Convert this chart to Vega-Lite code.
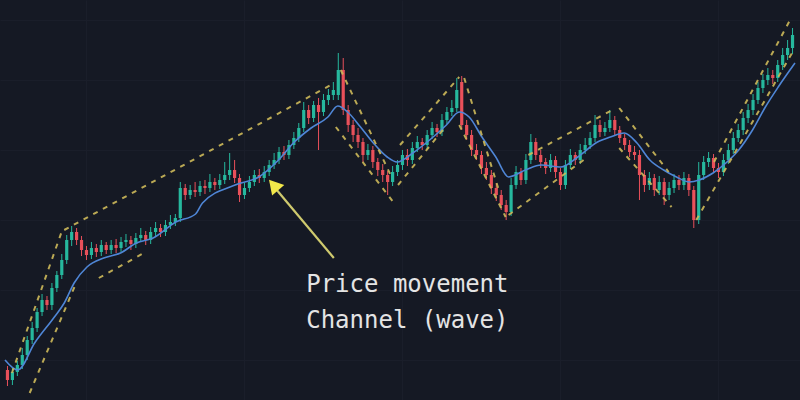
{
  "$schema": "https://vega.github.io/schema/vega-lite/v6.json",
  "width": 800,
  "height": 400,
  "autosize": {"type": "fit", "contains": "padding"},
  "padding": 0,
  "background": "#151924",
  "config": {"view": {"stroke": null}},
  "datasets": {
    "candles": [
      {"t":0,"o":30,"h":34,"l":14,"c":20},{"t":1,"o":20,"h":33,"l":15,"c":28},{"t":2,"o":28,"h":39,"l":24,"c":35},{"t":3,"o":35,"h":52,"l":31,"c":45},{"t":4,"o":45,"h":64,"l":40,"c":60},
      {"t":5,"o":60,"h":78,"l":56,"c":72},{"t":6,"o":72,"h":92,"l":68,"c":88},{"t":7,"o":88,"h":106,"l":84,"c":100},{"t":8,"o":100,"h":104,"l":90,"c":95},{"t":9,"o":95,"h":117,"l":90,"c":112},
      {"t":10,"o":112,"h":129,"l":108,"c":125},{"t":11,"o":125,"h":146,"l":121,"c":140},{"t":12,"o":140,"h":165,"l":136,"c":160},{"t":13,"o":160,"h":174,"l":154,"c":168},{"t":14,"o":168,"h":172,"l":155,"c":160},
      {"t":15,"o":160,"h":164,"l":144,"c":150},{"t":16,"o":150,"h":154,"l":140,"c":145},{"t":17,"o":145,"h":158,"l":141,"c":152},{"t":18,"o":152,"h":156,"l":143,"c":148},{"t":19,"o":148,"h":160,"l":144,"c":155},
      {"t":20,"o":155,"h":158,"l":146,"c":150},{"t":21,"o":150,"h":160,"l":146,"c":155},{"t":22,"o":155,"h":161,"l":147,"c":152},{"t":23,"o":152,"h":163,"l":148,"c":158},{"t":24,"o":158,"h":166,"l":153,"c":160},
      {"t":25,"o":160,"h":164,"l":150,"c":156},{"t":26,"o":156,"h":167,"l":152,"c":162},{"t":27,"o":162,"h":172,"l":158,"c":165},{"t":28,"o":165,"h":169,"l":155,"c":160},{"t":29,"o":160,"h":173,"l":156,"c":168},
      {"t":30,"o":168,"h":178,"l":164,"c":172},{"t":31,"o":172,"h":176,"l":163,"c":168},{"t":32,"o":168,"h":180,"l":164,"c":175},{"t":33,"o":175,"h":185,"l":171,"c":178},{"t":34,"o":178,"h":186,"l":174,"c":182},
      {"t":35,"o":182,"h":218,"l":178,"c":212},{"t":36,"o":212,"h":216,"l":200,"c":205},{"t":37,"o":205,"h":215,"l":201,"c":210},{"t":38,"o":210,"h":218,"l":203,"c":208},{"t":39,"o":208,"h":219,"l":204,"c":214},
      {"t":40,"o":214,"h":220,"l":206,"c":212},{"t":41,"o":212,"h":226,"l":208,"c":218},{"t":42,"o":218,"h":222,"l":210,"c":215},{"t":43,"o":215,"h":226,"l":211,"c":220},{"t":44,"o":220,"h":238,"l":216,"c":225},
      {"t":45,"o":225,"h":247,"l":220,"c":230},{"t":46,"o":230,"h":240,"l":217,"c":222},{"t":47,"o":222,"h":226,"l":198,"c":205},{"t":48,"o":205,"h":217,"l":201,"c":212},{"t":49,"o":212,"h":224,"l":208,"c":218},
      {"t":50,"o":218,"h":230,"l":214,"c":225},{"t":51,"o":225,"h":231,"l":217,"c":222},{"t":52,"o":222,"h":234,"l":218,"c":228},{"t":53,"o":228,"h":240,"l":224,"c":235},{"t":54,"o":235,"h":247,"l":231,"c":240},
      {"t":55,"o":240,"h":253,"l":236,"c":248},{"t":56,"o":248,"h":254,"l":240,"c":245},{"t":57,"o":245,"h":260,"l":241,"c":255},{"t":58,"o":255,"h":268,"l":251,"c":262},{"t":59,"o":262,"h":277,"l":258,"c":272},
      {"t":60,"o":272,"h":298,"l":268,"c":290},{"t":61,"o":290,"h":295,"l":276,"c":282},{"t":62,"o":282,"h":299,"l":278,"c":295},{"t":63,"o":295,"h":302,"l":250,"c":288},{"t":64,"o":288,"h":306,"l":284,"c":300},
      {"t":65,"o":300,"h":311,"l":295,"c":305},{"t":66,"o":305,"h":318,"l":300,"c":310},{"t":67,"o":305,"h":347,"l":300,"c":330},{"t":68,"o":330,"h":342,"l":285,"c":290},{"t":69,"o":290,"h":295,"l":268,"c":275},
      {"t":70,"o":275,"h":280,"l":258,"c":265},{"t":71,"o":265,"h":272,"l":252,"c":258},{"t":72,"o":258,"h":262,"l":238,"c":245},{"t":73,"o":245,"h":256,"l":240,"c":250},{"t":74,"o":250,"h":254,"l":232,"c":238},
      {"t":75,"o":238,"h":242,"l":224,"c":230},{"t":76,"o":230,"h":236,"l":218,"c":225},{"t":77,"o":225,"h":229,"l":205,"c":218},{"t":78,"o":218,"h":234,"l":214,"c":228},{"t":79,"o":228,"h":240,"l":224,"c":235},
      {"t":80,"o":235,"h":250,"l":230,"c":245},{"t":81,"o":245,"h":251,"l":234,"c":240},{"t":82,"o":240,"h":258,"l":236,"c":252},{"t":83,"o":252,"h":264,"l":248,"c":258},{"t":84,"o":258,"h":262,"l":250,"c":255},
      {"t":85,"o":255,"h":270,"l":251,"c":265},{"t":86,"o":265,"h":278,"l":261,"c":272},{"t":87,"o":272,"h":276,"l":263,"c":268},{"t":88,"o":268,"h":286,"l":264,"c":280},{"t":89,"o":280,"h":293,"l":276,"c":288},
      {"t":90,"o":288,"h":300,"l":284,"c":292},{"t":91,"o":292,"h":322,"l":288,"c":310},{"t":92,"o":318,"h":324,"l":270,"c":275},{"t":93,"o":275,"h":280,"l":260,"c":265},{"t":94,"o":265,"h":270,"l":244,"c":250},
      {"t":95,"o":250,"h":256,"l":240,"c":245},{"t":96,"o":245,"h":249,"l":226,"c":232},{"t":97,"o":232,"h":238,"l":220,"c":225},{"t":98,"o":225,"h":230,"l":206,"c":212},{"t":99,"o":212,"h":217,"l":199,"c":205},
      {"t":100,"o":205,"h":210,"l":190,"c":195},{"t":101,"o":195,"h":200,"l":180,"c":188},{"t":102,"o":188,"h":222,"l":184,"c":215},{"t":103,"o":215,"h":234,"l":211,"c":228},{"t":104,"o":228,"h":232,"l":215,"c":220},
      {"t":105,"o":220,"h":246,"l":216,"c":240},{"t":106,"o":240,"h":266,"l":236,"c":258},{"t":107,"o":258,"h":262,"l":240,"c":245},{"t":108,"o":245,"h":250,"l":232,"c":238},{"t":109,"o":238,"h":242,"l":226,"c":232},
      {"t":110,"o":232,"h":246,"l":228,"c":240},{"t":111,"o":240,"h":244,"l":222,"c":228},{"t":112,"o":228,"h":232,"l":210,"c":215},{"t":113,"o":215,"h":240,"l":211,"c":235},{"t":114,"o":235,"h":251,"l":231,"c":245},
      {"t":115,"o":245,"h":248,"l":235,"c":240},{"t":116,"o":240,"h":256,"l":236,"c":250},{"t":117,"o":250,"h":262,"l":246,"c":255},{"t":118,"o":255,"h":268,"l":251,"c":262},{"t":119,"o":262,"h":285,"l":258,"c":275},
      {"t":120,"o":275,"h":280,"l":263,"c":268},{"t":121,"o":268,"h":278,"l":264,"c":272},{"t":122,"o":272,"h":290,"l":268,"c":280},{"t":123,"o":280,"h":284,"l":265,"c":270},{"t":124,"o":270,"h":274,"l":257,"c":262},
      {"t":125,"o":262,"h":266,"l":250,"c":255},{"t":126,"o":255,"h":260,"l":243,"c":248},{"t":127,"o":248,"h":254,"l":240,"c":245},{"t":128,"o":245,"h":250,"l":200,"c":225},{"t":129,"o":225,"h":230,"l":208,"c":215},
      {"t":130,"o":215,"h":228,"l":210,"c":222},{"t":131,"o":222,"h":226,"l":204,"c":210},{"t":132,"o":210,"h":224,"l":205,"c":218},{"t":133,"o":218,"h":222,"l":195,"c":205},{"t":134,"o":205,"h":218,"l":200,"c":212},
      {"t":135,"o":212,"h":226,"l":207,"c":220},{"t":136,"o":220,"h":225,"l":210,"c":215},{"t":137,"o":215,"h":228,"l":210,"c":222},{"t":138,"o":222,"h":226,"l":204,"c":210},{"t":139,"o":210,"h":214,"l":172,"c":180},
      {"t":140,"o":180,"h":238,"l":176,"c":225},{"t":141,"o":225,"h":244,"l":220,"c":238},{"t":142,"o":238,"h":248,"l":233,"c":242},{"t":143,"o":242,"h":246,"l":228,"c":232},{"t":144,"o":232,"h":237,"l":222,"c":228},
      {"t":145,"o":228,"h":246,"l":224,"c":240},{"t":146,"o":240,"h":256,"l":236,"c":250},{"t":147,"o":250,"h":268,"l":246,"c":262},{"t":148,"o":262,"h":276,"l":258,"c":270},{"t":149,"o":270,"h":288,"l":265,"c":282},
      {"t":150,"o":282,"h":296,"l":277,"c":290},{"t":151,"o":290,"h":306,"l":285,"c":300},{"t":152,"o":300,"h":318,"l":296,"c":312},{"t":153,"o":312,"h":326,"l":307,"c":320},{"t":154,"o":320,"h":332,"l":315,"c":325},
      {"t":155,"o":325,"h":330,"l":316,"c":322},{"t":156,"o":322,"h":340,"l":318,"c":335},{"t":157,"o":335,"h":352,"l":330,"c":345},{"t":158,"o":345,"h":360,"l":340,"c":352},{"t":159,"o":352,"h":372,"l":346,"c":365}
    ],
    "ma": [
      {"t":-0.5,"p":40},{"t":2.1,"p":30},{"t":5.5,"p":57},{"t":9.5,"p":83},{"t":11.5,"p":97},{"t":13.5,"p":117},{"t":16.1,"p":133},{"t":19.5,"p":142},{"t":22.9,"p":147},{"t":26.1,"p":157},{"t":29.5,"p":162},{"t":34.1,"p":178},{"t":38.1,"p":186},{"t":39.5,"p":197},{"t":46.1,"p":215},{"t":50.9,"p":223},{"t":54.9,"p":240},{"t":58.1,"p":258},{"t":61.5,"p":272},{"t":64.9,"p":283},{"t":66.9,"p":294},{"t":68.9,"p":288},{"t":71.5,"p":273},{"t":74.1,"p":257},{"t":76.9,"p":243},{"t":78.9,"p":238},{"t":82.1,"p":247},{"t":85.5,"p":260},{"t":88.9,"p":275},{"t":91.5,"p":288},{"t":93.5,"p":283},{"t":96.1,"p":263},{"t":98.9,"p":243},{"t":101.5,"p":223},{"t":104.9,"p":230},{"t":108.1,"p":235},{"t":112.1,"p":233},{"t":115.5,"p":243},{"t":119.5,"p":258},{"t":122.1,"p":263},{"t":124.9,"p":267},{"t":127.5,"p":257},{"t":130.1,"p":240},{"t":132.9,"p":230},{"t":135.5,"p":223},{"t":138.1,"p":218},{"t":140.1,"p":220},{"t":142.9,"p":227},{"t":145.5,"p":237},{"t":148.1,"p":250},{"t":150.9,"p":270},{"t":153.5,"p":293},{"t":156.1,"p":313},{"t":159.5,"p":337}
    ],
    "channels": [
      {"seg":"1u","t":0.9,"p":27},{"seg":"1u","t":11.1,"p":170},
      {"seg":"1l","t":4.5,"p":7},{"seg":"1l","t":13.9,"p":117},
      {"seg":"2u","t":11.5,"p":170},{"seg":"2u","t":65.5,"p":315},
      {"seg":"2l","t":18.5,"p":122},{"seg":"2l","t":28,"p":148},
      {"seg":"3u","t":67.5,"p":330},{"seg":"3u","t":77.5,"p":226},
      {"seg":"3l","t":66.5,"p":273},{"seg":"3l","t":78.6,"p":195},
      {"seg":"4u","t":79.5,"p":255},{"seg":"4u","t":91.5,"p":323},
      {"seg":"4l","t":79.1,"p":215},{"seg":"4l","t":88.5,"p":272},
      {"seg":"5u","t":92.5,"p":322},{"seg":"5u","t":99.5,"p":210},
      {"seg":"5l","t":91.5,"p":275},{"seg":"5l","t":100.9,"p":183},
      {"seg":"6u","t":105.5,"p":245},{"seg":"6u","t":122.5,"p":290},
      {"seg":"6l","t":101.5,"p":185},{"seg":"6l","t":117.5,"p":243},
      {"seg":"7u","t":123.9,"p":292},{"seg":"7u","t":133.9,"p":228},
      {"seg":"7l","t":123.9,"p":252},{"seg":"7l","t":134.5,"p":193},
      {"seg":"8u","t":143.1,"p":238},{"seg":"8u","t":158.5,"p":380},
      {"seg":"8l","t":139.5,"p":180},{"seg":"8l","t":158.9,"p":347}
    ],
    "arrow": [
      {"t":66.1,"p":142,"t2":54.2,"p2":212}
    ],
    "arrowhead": [
      {"t":53.9,"p":215}
    ],
    "labels": [
      {"t":60.5,"p":108,"label":"Price movement"},
      {"t":60.5,"p":72,"label":"Channel (wave)"}
    ]
  },
  "layer": [
    {
      "data": {"name": "candles"},
      "mark": {"type": "rule", "strokeWidth": 1},
      "encoding": {
        "x": {"field": "t", "type": "quantitative", "scale": {"domain": [-0.5, 159.5], "nice": false, "zero": false},
              "axis": {"labels": false, "ticks": false, "domain": false, "title": null, "grid": true, "gridColor": "#1a1e2a", "values": [16, 48, 80, 112, 144]}},
        "y": {"field": "l", "type": "quantitative", "scale": {"domain": [0, 400], "nice": false, "zero": false},
              "axis": {"labels": false, "ticks": false, "domain": false, "title": null, "grid": true, "gridColor": "#1a1e2a", "values": [40, 110, 180, 250, 320, 380]}},
        "y2": {"field": "h"},
        "color": {"condition": {"test": "datum.c >= datum.o", "value": "#26b89e"}, "value": "#e9505a"}
      }
    },
    {
      "data": {"name": "candles"},
      "mark": {"type": "bar", "size": 3.2},
      "encoding": {
        "x": {"field": "t", "type": "quantitative"},
        "y": {"field": "o", "type": "quantitative"},
        "y2": {"field": "c"},
        "color": {"condition": {"test": "datum.c >= datum.o", "value": "#26b89e"}, "value": "#e9505a"}
      }
    },
    {
      "data": {"name": "ma"},
      "mark": {"type": "line", "color": "#4f86d6", "strokeWidth": 1.6, "interpolate": "monotone"},
      "encoding": {
        "x": {"field": "t", "type": "quantitative"},
        "y": {"field": "p", "type": "quantitative"}
      }
    },
    {
      "data": {"name": "channels"},
      "mark": {"type": "line", "color": "#cdb95a", "strokeWidth": 2, "strokeDash": [5, 6], "opacity": 0.9},
      "encoding": {
        "x": {"field": "t", "type": "quantitative"},
        "y": {"field": "p", "type": "quantitative"},
        "detail": {"field": "seg"}
      }
    },
    {
      "data": {"name": "arrow"},
      "mark": {"type": "rule", "color": "#cfca6e", "strokeWidth": 2.2},
      "encoding": {
        "x": {"field": "t", "type": "quantitative"},
        "y": {"field": "p", "type": "quantitative"},
        "x2": {"field": "t2"},
        "y2": {"field": "p2"}
      }
    },
    {
      "data": {"name": "arrowhead"},
      "mark": {"type": "point", "shape": "triangle-up", "filled": true, "color": "#f2e84a", "size": 260, "angle": 319, "opacity": 1},
      "encoding": {
        "x": {"field": "t", "type": "quantitative"},
        "y": {"field": "p", "type": "quantitative"}
      }
    },
    {
      "data": {"name": "labels"},
      "mark": {"type": "text", "align": "left", "baseline": "alphabetic", "font": "DejaVu Sans Mono", "fontSize": 24, "color": "#e4e4e4"},
      "encoding": {
        "x": {"field": "t", "type": "quantitative"},
        "y": {"field": "p", "type": "quantitative"},
        "text": {"field": "label"}
      }
    }
  ]
}
